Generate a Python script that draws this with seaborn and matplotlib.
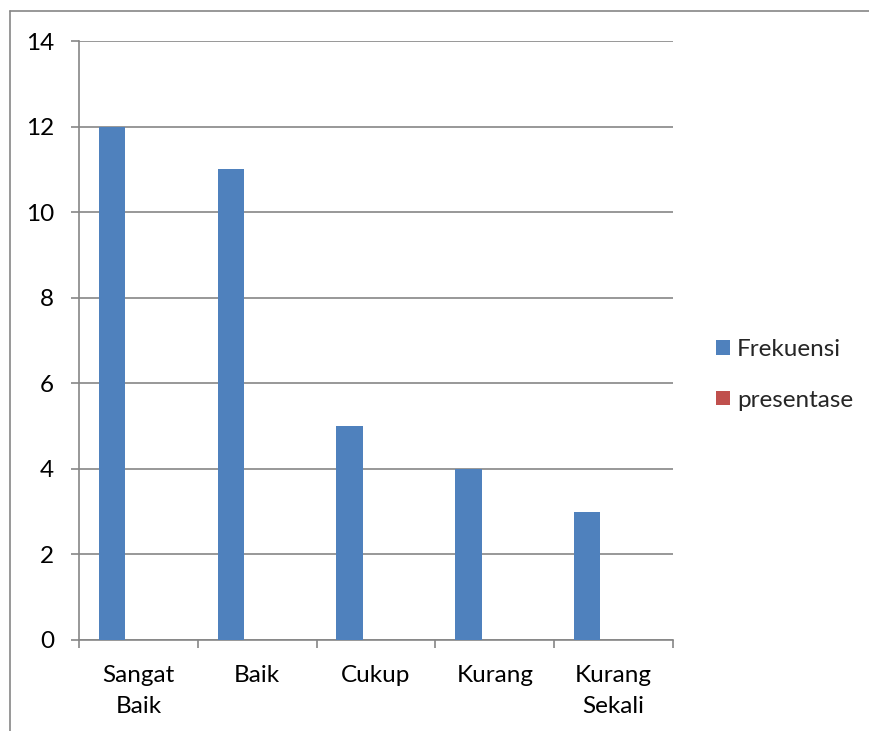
import matplotlib
matplotlib.use("Agg")
import matplotlib.pyplot as plt
from matplotlib.lines import Line2D
from matplotlib.patches import Patch
import seaborn as sns
import pandas as pd

categories = ["Sangat\nBaik", "Baik", "Cukup", "Kurang", "Kurang\nSekali"]
frekuensi = [12, 11, 5, 4, 3]
presentase = [0, 0, 0, 0, 0]
kosong = [0, 0, 0, 0, 0]
series_names = ["Frekuensi", "presentase", " "]
yticks = [0, 2, 4, 6, 8, 10, 12, 14]

blue = "#4F81BD"
red = "#C0504D"
gray = "#868686"
fs = 17.5

sns.set_theme(style="white")
plt.rcParams["font.family"] = ["Lato", "DejaVu Sans"]

rows = []
for name, vals in zip(series_names, [frekuensi, presentase, kosong]):
    for c, v in zip(categories, vals):
        rows.append({"kategori": c, "seri": name, "nilai": v})
df = pd.DataFrame(rows)

fig = plt.figure(figsize=(8.69, 7.31), dpi=100)
ax = fig.add_axes([79 / 869, 1 - 640 / 731, (673 - 79) / 869, (640 - 41) / 731])

sns.barplot(data=df, x="kategori", y="nilai", hue="seri", hue_order=series_names,
            order=categories, palette=[blue, red, "#9BBB59"], width=2 / 3,
            saturation=1, linewidth=0, errorbar=None, legend=False, ax=ax, zorder=3)

ax.set_xlim(-0.5, len(categories) - 0.5)
ax.set_ylim(0, 14)
ax.set_yticks(yticks)
ax.set_yticklabels([str(t) for t in yticks])
ax.yaxis.grid(True, color=gray, linewidth=1.2)
ax.set_axisbelow(True)
ax.set_xlabel("")
ax.set_ylabel("")

for side in ["top", "right"]:
    ax.spines[side].set_visible(False)
for side in ["left", "bottom"]:
    ax.spines[side].set_color(gray)
    ax.spines[side].set_linewidth(1.2)

# category boundary ticks on the x axis
ax.set_xticks([i - 0.5 for i in range(len(categories) + 1)], minor=True)
ax.set_xticks(range(len(categories)))
ax.set_xticklabels(categories, fontsize=fs, color="black", linespacing=1.6,
                   va="top")
ax.tick_params(axis="x", which="major", length=0, pad=18)
ax.tick_params(axis="x", which="minor", length=6, width=1.2, color=gray, direction="out",
               bottom=True)
ax.tick_params(axis="y", which="major", length=6, width=1.2, color=gray, direction="out",
               left=True, labelsize=fs, labelcolor="black", pad=12)

handles = [Patch(facecolor=blue, edgecolor="none"), Patch(facecolor=red, edgecolor="none")]
fig.legend(handles, series_names[:2], loc="center left", bbox_to_anchor=(697 / 869, 1 - 375 / 731),
           frameon=False, fontsize=fs, handlelength=0.55, handleheight=0.55,
           handletextpad=0.3, labelspacing=1.2, borderpad=0.3)

# outer chart border (top and left edges)
fig.add_artist(Line2D([10 / 869, 1], [1 - 11 / 731, 1 - 11 / 731], color=gray, linewidth=1.2,
                      transform=fig.transFigure))
fig.add_artist(Line2D([10 / 869, 10 / 869], [0, 1 - 11 / 731], color=gray, linewidth=1.2,
                      transform=fig.transFigure))

fig.savefig("out.png", dpi=100, facecolor="white")
